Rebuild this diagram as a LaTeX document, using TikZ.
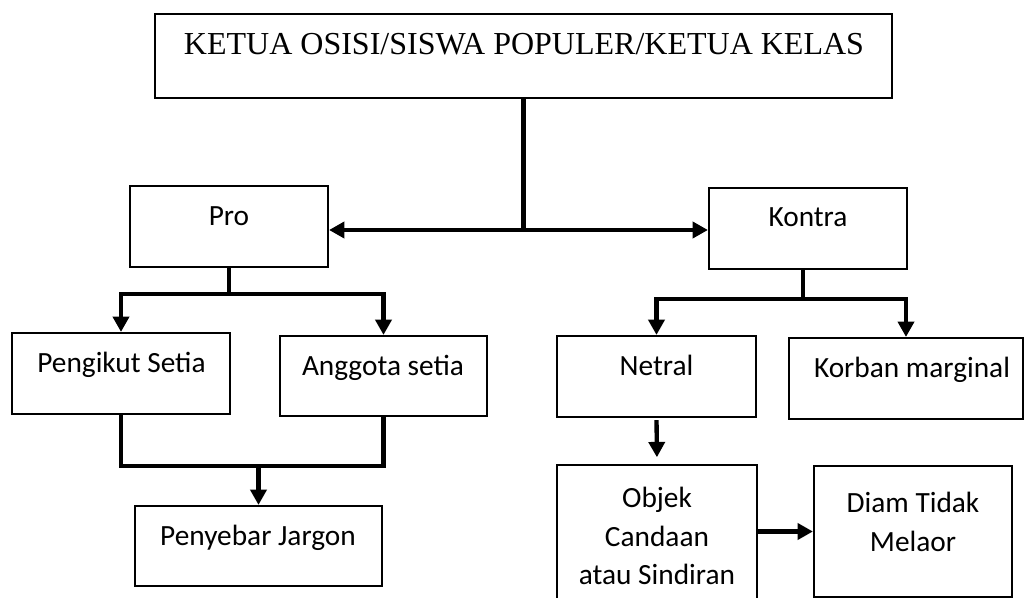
\documentclass[tikz,border=0pt]{standalone}
\usepackage{fontspec}
\setmainfont{Carlito}
\newfontfamily\timesfont{Liberation Serif}
\usetikzlibrary{arrows.meta,fit}

\tikzset{every picture/.style={line width=0.75pt}}
\tikzset{
  >={Triangle[length=11.5pt,width=12pt]},
  box/.style={draw, line width=1.6pt, inner sep=0pt},
  lbl/.style={inner sep=0pt, align=center, font=\fontsize{22}{29}\selectfont},
  link/.style={line width=3.25pt},
  arr/.style={link, ->},
}

\begin{document}
\begin{tikzpicture}[x=0.75pt,y=0.75pt,yscale=-1,xscale=1]
	\clip (0,0) rectangle (1024,598);
	
	%Shape: Rectangle [top]
	\node[box, fit={(155,14) (892,98)}] (top) {};
	%Shape: Rectangle [pro / kontra]
	\node[box, fit={(130,186) (328,267)}] (pro) {};
	\node[box, fit={(709,188) (907,269)}] (kontra) {};
	%Shape: Rectangle [pro side]
	\node[box, fit={(12,333) (230,414)}] (pengikut) {};
	\node[box, fit={(280,336) (487,416)}] (anggota) {};
	\node[box, fit={(135,506) (382,586)}] (penyebar) {};
	%Shape: Rectangle [kontra side]
	\node[box, fit={(557,336) (756,417)}] (netral) {};
	\node[box, fit={(789,338) (1023,419)}] (korban) {};
	\node[box, fit={(557,465) (757,612)}] (objek) {};
	\node[box, fit={(814,466) (1012,597)}] (diam) {};
	
	%Straight Lines [top to pro/kontra]
	\coordinate (hub) at (524,230);
	\draw[link] (top.south) -- (top.south |- hub);
	\draw[link, <->] (pro.east |- hub) -- (kontra.west |- hub);
	
	%Straight Lines [pro branch]
	\coordinate (prob) at (228,294);
	\draw[link] (pro.south) -- (pro.south |- prob);
	\draw[arr] (pro.south |- prob) -| (pengikut.north);
	\draw[arr] (pro.south |- prob) -| (anggota.north);
	\coordinate (jmerge) at (256,466);
	\draw[link] (pengikut.south) |- (jmerge) -| (anggota.south);
	\draw[arr] (penyebar.north |- jmerge) -- (penyebar.north);
	
	%Straight Lines [kontra branch]
	\coordinate (konb) at (803,299);
	\draw[link] (kontra.south -| konb) -- (konb);
	\draw[arr] (konb) -| (netral.north);
	\draw[arr] (konb) -| (korban.north);
	\draw[arr, shorten <=1.5pt, shorten >=5pt] (netral.south) -- (objek.north);
	\draw[arr] (objek.east |- diam.west) -- (diam.west);
	
	% Text Node
	\node[lbl, anchor=base, font=\timesfont\fontsize{24}{28}\selectfont] (toptx) at (524,55) {KETUA OSISI/SISWA POPULER/KETUA KELAS};
	% Text Node
	\node[lbl, anchor=base] (protx) at (229,225.5) {Pro};
	% Text Node
	\node[lbl, anchor=base] (kontx) at (808,227) {Kontra};
	% Text Node
	\node[lbl, anchor=base] (pengtx) at (121.5,373) {Pengikut Setia};
	% Text Node
	\node[lbl, anchor=base] (anggtx) at (383,376) {Anggota setia};
	% Text Node
	\node[lbl, anchor=base] (penytx) at (258,545) {Penyebar Jargon};
	% Text Node
	\node[lbl, anchor=base] (nettx) at (656.5,375) {Netral};
	% Text Node
	\node[lbl, anchor=base] (kortx) at (912,378) {Korban marginal};
	% Text Node
	\node[lbl] (objtx) at (657,536) {Objek\\Candaan\\atau Sindiran};
	% Text Node
	\node[lbl] (diamtx) at (913,522) {Diam Tidak\\Melaor};
	
\end{tikzpicture}
\end{document}
